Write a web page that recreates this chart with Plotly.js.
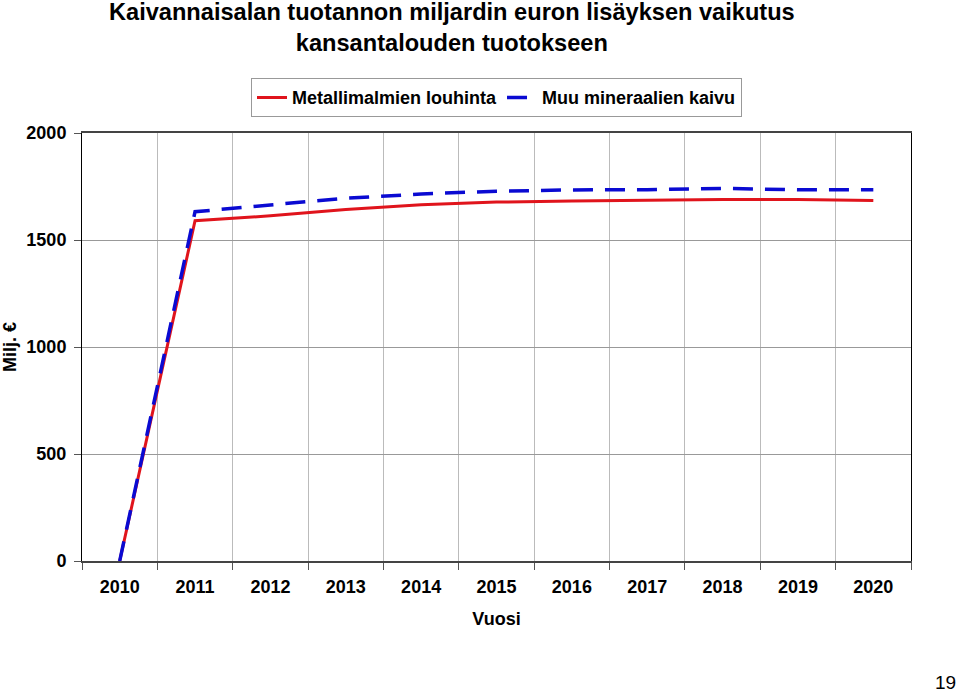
<!DOCTYPE html>
<html>
<head>
<meta charset="utf-8">
<script src="https://cdn.plot.ly/plotly-3.0.1.min.js"></script>
<style>
  body { margin: 0; background: #fff; }
  #plot { width: 959px; height: 692px; }
</style>
</head>
<body>
<div id="plot"></div>
<script>
const years = ['2010', '2011', '2012', '2013', '2014', '2015', '2016', '2017', '2018', '2019', '2020'];
const metallimalmit = [0, 1590, 1613, 1643, 1665, 1677, 1682, 1686, 1689, 1689, 1685];
const muuKaivu = [0, 1632, 1664, 1695, 1715, 1728, 1734, 1735, 1741, 1735, 1735];
const yTicks = [0, 500, 1000, 1500, 2000];

const baseFont = { family: 'Liberation Sans, Arial, sans-serif', size: 18, color: '#000', weight: 'bold' };

let traces = [
    {
        x: years,
        y: metallimalmit,
        type: 'scatter',
        mode: 'lines',
        name: 'Metallimalmien louhinta',
        line: { color: '#e0141c', width: 3 }
    },
    {
        x: years,
        y: muuKaivu,
        type: 'scatter',
        mode: 'lines',
        name: 'Muu mineraalien kaivu',
        line: { color: '#0a0ad2', width: 3.5, dash: '20px,12px' }
    }
];

let layout = {
    width: 959,
    height: 692,
    margin: { l: 82, r: 48, t: 133, b: 131 },
    paper_bgcolor: '#fff',
    plot_bgcolor: '#fff',
    font: baseFont,
    showlegend: true,
    legend: {
        orientation: 'h',
        x: 0.5, xanchor: 'center',
        y: 1.128, yanchor: 'top',
        bordercolor: '#999', borderwidth: 1,
        font: baseFont,
        tracegroupgap: 0
    },
    xaxis: {
        type: 'category',
        range: [-0.5, 10.5],
        tickson: 'boundaries',
        ticks: 'outside', ticklen: 7, tickcolor: '#555',
        ticklabelstandoff: 8,
        showgrid: true, gridcolor: '#bbb', gridwidth: 1,
        showline: true, linecolor: '#444', linewidth: 2, mirror: true,
        tickfont: baseFont,
        title: { text: 'Vuosi', font: baseFont, standoff: 17 },
        fixedrange: true
    },
    yaxis: {
        range: [0, 2000],
        tickvals: yTicks,
        ticktext: yTicks.map(String),
        ticks: 'outside', ticklen: 7, tickcolor: '#555',
        ticklabelstandoff: 4,
        showgrid: true, gridcolor: '#999', gridwidth: 1,
        zeroline: false,
        showline: true, linecolor: '#000', linewidth: 1, mirror: true,
        tickfont: baseFont,
        title: { text: 'Milj. €', font: baseFont, standoff: 10 },
        fixedrange: true
    },
    annotations: [
        {
            text: 'Kaivannaisalan tuotannon miljardin euron lisäyksen vaikutus<br>kansantalouden tuotokseen',
            xref: 'paper', yref: 'paper',
            x: 0.446, y: 1.247,
            xanchor: 'center', yanchor: 'middle',
            showarrow: false,
            font: { family: baseFont.family, size: 23.6, color: '#000', weight: 'bold' }
        },
        {
            text: '19',
            xref: 'paper', yref: 'paper',
            x: 1.042, y: -0.285,
            xanchor: 'center', yanchor: 'middle',
            showarrow: false,
            font: { family: baseFont.family, size: 19, color: '#000', weight: 'normal' }
        }
    ]
};

Plotly.newPlot('plot', traces, layout, { displayModeBar: false, staticPlot: true });
</script>
</body>
</html>
